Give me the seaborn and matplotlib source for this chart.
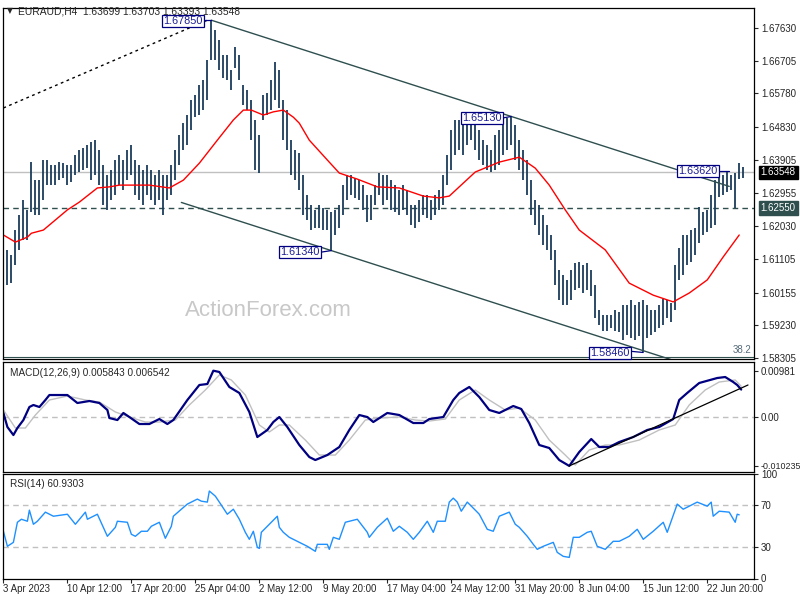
import numpy as np
import matplotlib
matplotlib.use("Agg")
import matplotlib.pyplot as plt
import matplotlib.transforms as mtransforms
import seaborn as sns

# EURAUD H4 (2本ずつ): 高値・安値
bar_high = [
    1.6263, 1.6136, 1.6121, 1.6192, 1.6234, 1.6277, 1.6249, 1.6384, 1.6333, 1.6333,
    1.6390, 1.6390, 1.6376, 1.6376, 1.6384, 1.6381, 1.6376, 1.6376, 1.6404, 1.6418,
    1.6424, 1.6432, 1.6441, 1.6446, 1.6418, 1.6376, 1.6348, 1.6362, 1.6390, 1.6404,
    1.6390, 1.6418, 1.6432, 1.6390, 1.6376, 1.6362, 1.6376, 1.6362, 1.6348, 1.6362,
    1.6348, 1.6348, 1.6376, 1.6418, 1.6461, 1.6494, 1.6517, 1.6559, 1.6574, 1.6602,
    1.6616, 1.6673, 1.6785, 1.6757, 1.6729, 1.6687, 1.6687, 1.6644, 1.6709, 1.6687,
    1.6602, 1.6588, 1.6559, 1.6503, 1.6461, 1.6574, 1.6579, 1.6616, 1.6667, 1.6644,
    1.6559, 1.6531, 1.6446, 1.6418, 1.6410, 1.6348, 1.6291, 1.6263, 1.6249, 1.6263,
    1.6254, 1.6249, 1.6243, 1.6249, 1.6263, 1.6319, 1.6348, 1.6348, 1.6339, 1.6333,
    1.6319, 1.6291, 1.6291, 1.6319, 1.6353, 1.6348, 1.6348, 1.6333, 1.6319, 1.6305,
    1.6319, 1.6305, 1.6263, 1.6263, 1.6277, 1.6291, 1.6291, 1.6277, 1.6291, 1.6305,
    1.6348, 1.6404, 1.6475, 1.6503, 1.6503, 1.6489, 1.6503, 1.6509, 1.6489, 1.6475,
    1.6446, 1.6432, 1.6418, 1.6461, 1.6475, 1.6489, 1.6509, 1.6513, 1.6489, 1.6446,
    1.6418, 1.6390, 1.6333, 1.6277, 1.6263, 1.6234, 1.6206, 1.6178, 1.6136, 1.6079,
    1.6065, 1.6051, 1.6079, 1.6099, 1.6102, 1.6093, 1.6099, 1.6079, 1.6037, 1.5966,
    1.5952, 1.5952, 1.5952, 1.5966, 1.5960, 1.5980, 1.5980, 1.5994, 1.5980, 1.5989,
    1.5994, 1.5980, 1.5966, 1.5966, 1.5980, 1.5998, 1.5994, 1.5986, 1.6093, 1.6141,
    1.6178, 1.6178, 1.6192, 1.6198, 1.6257, 1.6243, 1.6249, 1.6291, 1.6333, 1.6348,
    1.6348, 1.6356, 1.6348, 1.6353, 1.6381, 1.63703,
]
bar_low = [
    1.6164, 1.6037, 1.6042, 1.6093, 1.6136, 1.6164, 1.6164, 1.6243, 1.6234, 1.6234,
    1.6277, 1.6319, 1.6319, 1.6319, 1.6333, 1.6339, 1.6319, 1.6328, 1.6348, 1.6356,
    1.6362, 1.6367, 1.6333, 1.6348, 1.6319, 1.6263, 1.6249, 1.6277, 1.6291, 1.6319,
    1.6305, 1.6333, 1.6348, 1.6291, 1.6277, 1.6263, 1.6291, 1.6277, 1.6263, 1.6277,
    1.6234, 1.6277, 1.6291, 1.6333, 1.6376, 1.6418, 1.6432, 1.6475, 1.6511, 1.6517,
    1.6531, 1.6559, 1.6673, 1.6673, 1.6644, 1.6622, 1.6616, 1.6588, 1.6650, 1.6616,
    1.6545, 1.6531, 1.6446, 1.6362, 1.6353, 1.6503, 1.6517, 1.6531, 1.6559, 1.6537,
    1.6446, 1.6418, 1.6348, 1.6333, 1.6305, 1.6234, 1.6220, 1.6192, 1.6198, 1.6198,
    1.6192, 1.6192, 1.6134, 1.6178, 1.6198, 1.6234, 1.6277, 1.6291, 1.6283, 1.6277,
    1.6249, 1.6215, 1.6220, 1.6263, 1.6291, 1.6263, 1.6277, 1.6249, 1.6243, 1.6234,
    1.6249, 1.6234, 1.6206, 1.6198, 1.6215, 1.6234, 1.6226, 1.6220, 1.6234, 1.6249,
    1.6263, 1.6319, 1.6362, 1.6404, 1.6418, 1.6404, 1.6432, 1.6446, 1.6418, 1.6390,
    1.6376, 1.6362, 1.6356, 1.6362, 1.6376, 1.6404, 1.6418, 1.6432, 1.6390, 1.6362,
    1.6333, 1.6291, 1.6234, 1.6206, 1.6178, 1.6150, 1.6136, 1.6107, 1.6037, 1.5994,
    1.5980, 1.5980, 1.5994, 1.6023, 1.6028, 1.6014, 1.6023, 1.6006, 1.5943, 1.5923,
    1.5908, 1.5908, 1.5915, 1.5908, 1.5904, 1.5881, 1.5895, 1.5887, 1.5881, 1.5893,
    1.5846, 1.5887, 1.5895, 1.5904, 1.5915, 1.5923, 1.5943, 1.5932, 1.5966, 1.6051,
    1.6065, 1.6093, 1.6102, 1.6121, 1.6155, 1.6178, 1.6186, 1.6198, 1.6206, 1.6285,
    1.6291, 1.6300, 1.6305, 1.6255, 1.6335, 1.63393,
]
bar_step = 2  # H4 足の本数単位

# 移動平均 (赤)
ma_idx = [0, 6, 12, 14, 20, 32, 38, 47, 53, 58, 73, 83, 90, 98, 107, 115, 120, 124, 130, 135,
          140, 145, 148, 153, 162, 168, 177, 187, 198, 210, 218, 223, 236, 248, 258, 266, 273, 281,
          288, 301, 313, 325, 335, 343, 352, 360, 368]
ma_val = [1.6178, 1.6158, 1.6172, 1.6183, 1.6192, 1.6249, 1.6271, 1.6311, 1.6314, 1.6319,
          1.6319, 1.6311, 1.6333, 1.6381, 1.6446, 1.6503, 1.6531, 1.6531, 1.6517, 1.6526,
          1.6531, 1.6511, 1.6494, 1.6446, 1.6390, 1.6353, 1.6336, 1.6314, 1.6311, 1.6288,
          1.6283, 1.6288, 1.6356, 1.6384, 1.6398, 1.6367, 1.6319, 1.6249, 1.6192, 1.6136,
          1.6042, 1.6008, 1.5989, 1.6014, 1.6051, 1.6116, 1.6178]

# MACD(12,26,9)
macd_idx = [0, 2, 5, 7, 10, 13, 15, 18, 21, 23, 32, 37, 43, 48, 52, 53, 57, 60, 63, 68,
            73, 78, 82, 85, 92, 98, 102, 105, 108, 113, 118, 123, 127, 132, 135, 138, 142, 148, 153, 156,
            162, 168, 173, 178, 182, 185, 192, 198, 205, 210, 213, 220, 225, 228, 233, 238, 243, 248, 255, 259,
            263, 268, 273, 278, 283, 288, 294, 298, 303, 308, 315, 322, 328, 335, 338, 342, 348, 357, 361, 365,
            367, 369]
macd_val = [0.00091, -0.00204, -0.00373, -0.00225, -0.00057, 0.00217, 0.00259, 0.00217, 0.00364, 0.00469,
            0.00469, 0.00301, 0.00343, 0.00301, 0.00154, -0.00015, -0.00057, 0.00091, 0.00006, -0.00141,
            -0.00141, -0.00036, -0.00141, -0.00057, 0.00364, 0.00680, 0.00701, 0.00981, 0.00954, 0.00638,
            0.00512, 0.00112, -0.00415, -0.00267, -0.00099, 0.00006, -0.00204, -0.00583, -0.00836, -0.00899,
            -0.00794, -0.00625, -0.00267, 0.00048, 0.00006, -0.00099, 0.00091, 0.00048, -0.00120, -0.00120,
            -0.00036, 0.00006, 0.00364, 0.00512, 0.00638, 0.00427, 0.00154, 0.00091, 0.00238, 0.00175,
            -0.00120, -0.00583, -0.00646, -0.00899, -0.01023, -0.00730, -0.00457, -0.00625, -0.00625, -0.00520,
            -0.00415, -0.00267, -0.00204, -0.00036, 0.00364, 0.00512, 0.00722, 0.00827, 0.00848, 0.00743,
            0.00680, 0.00584]
sig_idx = [0, 6, 11, 16, 23, 32, 41, 48, 56, 63, 71, 78, 86, 93, 101, 108, 114, 121, 128, 133,
           138, 143, 151, 158, 166, 173, 181, 188, 198, 206, 213, 221, 228, 236, 243, 251, 258, 266, 273, 281,
           286, 293, 301, 308, 318, 328, 336, 343, 351, 358, 366, 369]
sig_val = [0.00154, -0.00225, -0.00225, 0.00048, 0.00364, 0.00448, 0.00364, 0.00322, 0.00112, 0.00006,
           -0.00099, -0.00099, -0.00057, 0.00259, 0.00575, 0.00891, 0.00785, 0.00469, -0.00162, -0.00309,
           -0.00162, -0.00162, -0.00478, -0.00794, -0.00794, -0.00478, -0.00057, -0.00015, 0.00006, -0.00057,
           -0.00078, -0.00036, 0.00364, 0.00575, 0.00364, 0.00154, 0.00196, -0.00057, -0.00478, -0.00794,
           -0.01004, -0.00688, -0.00583, -0.00583, -0.00478, -0.00267, -0.00162, 0.00259, 0.00575, 0.00743,
           0.00785, 0.00654]

# RSI(14)
rsi_idx = [0, 2, 5, 7, 9, 12, 13, 15, 17, 21, 25, 32, 36, 41, 42, 47, 52, 56, 57, 62,
           64, 66, 69, 72, 74, 78, 81, 84, 85, 89, 92, 97, 99, 102, 103, 106, 108, 112, 115, 118,
           121, 123, 125, 127, 128, 129, 133, 137, 138, 140, 143, 148, 152, 156, 157, 162, 163, 165, 168, 171,
           177, 182, 183, 187, 192, 195, 198, 202, 205, 208, 212, 215, 217, 221, 223, 225, 227, 229, 232, 233,
           237, 238, 242, 245, 247, 248, 253, 256, 258, 262, 265, 267, 270, 275, 277, 280, 283, 285, 288, 292,
           294, 297, 301, 305, 308, 313, 317, 320, 325, 330, 332, 337, 340, 343, 347, 352, 354, 355, 358, 363,
           366, 367, 368]
rsi_val = [45.2, 30.8, 34.6, 53.8, 56.7, 54.8, 65.4, 51.9, 54.8, 63.5, 59.6, 61.5, 51.9, 63.5, 56.7, 61.5,
           40.4, 49.0, 54.8, 53.8, 42.3, 40.4, 45.2, 45.2, 50.0, 53.8, 38.5, 50.0, 59.6, 66.3, 71.2, 76.0,
           74.0, 73.1, 83.7, 78.8, 73.1, 61.5, 66.3, 56.7, 44.2, 37.5, 45.2, 29.8, 28.8, 44.2, 51.9, 59.6,
           49.0, 44.2, 39.4, 34.6, 30.8, 26.0, 32.7, 32.7, 27.9, 39.4, 37.5, 53.8, 56.7, 44.2, 39.4, 49.0,
           57.7, 45.2, 50.0, 44.2, 37.5, 44.2, 54.8, 44.2, 54.8, 54.8, 73.1, 76.9, 73.1, 64.4, 73.1, 71.2,
           63.5, 61.5, 47.1, 45.2, 54.8, 59.6, 63.5, 51.9, 49.0, 40.4, 32.7, 27.9, 30.8, 34.6, 25.0, 21.2,
           20.2, 39.4, 39.4, 44.2, 45.2, 30.8, 27.9, 35.6, 35.6, 40.4, 47.1, 37.5, 45.2, 53.8, 44.2, 71.2,
           66.3, 69.2, 73.1, 69.2, 73.1, 59.6, 64.4, 63.5, 53.8, 61.5, 60.93]

# 目盛りとラベル
time_labels = ["3 Apr 2023", "10 Apr 12:00", "17 Apr 20:00", "25 Apr 04:00", "2 May 12:00",
               "9 May 20:00", "17 May 04:00", "24 May 12:00", "31 May 20:00", "8 Jun 04:00",
               "15 Jun 12:00", "22 Jun 20:00"]
price_ticks = [1.58305, 1.59230, 1.60155, 1.61105, 1.62030, 1.62955, 1.63905,
               1.64830, 1.65780, 1.66705, 1.67630]
macd_ticks = [-0.010235, 0.0, 0.00981]
macd_tick_labels = ["-0.010235", "0.00", "0.00981"]
rsi_levels = [30, 70]

# 重要な価格
header_ohlc = [1.63699, 1.63703, 1.63393, 1.63548]
support_level = 1.62550
swing_points = [(104, 1.67850), (254, 1.65130), (164, 1.61340), (320, 1.58460)]
touch_price = 1.63620
macd_params = "MACD(12,26,9) 0.005843 0.006542"
rsi_text = "RSI(14) 60.9303"

sns.set_style("white")
plt.rcParams['font.family'] = ['Liberation Sans', 'DejaVu Sans']
plt.rcParams['axes.linewidth'] = 0.9

BAR_C = '#1b3d5a'
LINE_C = '#2f4f4f'
LBL_C = '#1c1c96'

fig = plt.figure(figsize=(8, 6), dpi=100)
L, W = 3 / 800, 751 / 800
ax = fig.add_axes([L, 1 - 359 / 600, W, 351 / 600])
ax2 = fig.add_axes([L, 1 - 472 / 600, W, 110 / 600], sharex=ax)
ax3 = fig.add_axes([L, 1 - 578.5 / 600, W, 104.5 / 600], sharex=ax)

xmax = 375.4

# --- メインチャート ---
bar_idx = np.arange(len(bar_high)) * bar_step
ax.vlines(bar_idx, bar_low, bar_high, color=BAR_C, lw=1.3)
sns.lineplot(x=ma_idx, y=ma_val, ax=ax, color='red', lw=1.0, sort=False)

ax.axhline(header_ohlc[3], color='#c0c0c0', lw=1.0, zorder=0)
ax.axhline(support_level, color=LINE_C, lw=1.0, ls=(0, (4, 3)), zorder=0)

# 下降チャネル
(p1x, p1y), (p2x, p2y), (p3x, p3y), (p4x, p4y) = swing_points
slope = (p2y - p1y) / (p2x - p1x)
ux = np.array([p1x, 363])
ax.plot(ux, p1y + slope * (ux - p1x), color=LINE_C, lw=1.0)
lx = np.array([89, 345])
ax.plot(lx, p3y + slope * (lx - p3x), color=LINE_C, lw=1.0)
# 点線
ax.plot([0, 102], [1.6537, p1y], color='black', lw=1.0, ls=(0, (2, 2.5)))

# フィボナッチ 38.2
ax.axhline(1.5832, color=LINE_C, lw=0.8)
ax.text(0.997, 1.5838, "38.2", transform=mtransforms.blended_transform_factory(ax.transAxes, ax.transData),
        ha='right', va='bottom', fontsize=7, color='#556b7a')


def price_box(x, y, txt, cx, cy):
    ax.text(x, y, txt, ha='center', va='center', fontsize=7.8, color=LBL_C,
            bbox=dict(boxstyle='square,pad=0.12', fc='white', ec='#000080', lw=0.9), zorder=6)
    ax.plot(cx, cy, color='#000080', lw=0.9, zorder=5)


price_box(89.6, 1.6783, "1.67850", [100.5, p1x], [p1y, p1y])
price_box(239.4, 1.6509, "1.65130", [250, p2x], [1.6509, p2y])
price_box(148.4, 1.6130, "1.61340", [159.4, p3x], [1.6130, p3y])
price_box(303.4, 1.5845, "1.58460", [314.5, p4x], [1.5849, p4y])
price_box(347.4, 1.6359, "1.63620", [358.5, 363], [1.6359, 1.6359])

ax.set_ylim(1.58276, 1.68195)
ax.set_xlim(-0.2, xmax)
ax.set_yticks(price_ticks)
ax.set_yticklabels([f"{t:.5f}" for t in price_ticks])

trans = mtransforms.blended_transform_factory(ax.transAxes, ax.transData)
ax.text(1.009, header_ohlc[3], f"{header_ohlc[3]:.5f}", transform=trans, ha='left', va='center',
        fontsize=7, color='white', bbox=dict(boxstyle='square,pad=0.18', fc='black', ec='black'))
ax.text(1.009, support_level, f"{support_level:.5f}", transform=trans, ha='left', va='center',
        fontsize=7, color='white', bbox=dict(boxstyle='square,pad=0.18', fc=LINE_C, ec=LINE_C))

fig.text(7 / 800, 1 - 11 / 600, "\u25bc", fontsize=5.5, va='center', ha='left',
         family=['DejaVu Sans'])
fig.text(18 / 800, 1 - 11 / 600, "EURAUD,H4  " + " ".join(f"{v:.5f}" for v in header_ohlc),
         fontsize=7.4, va='center', ha='left')
fig.text(268 / 800, 1 - 310 / 600, "ActionForex.com", fontsize=16, color='#c8c8c8',
         ha='center', va='center')

# --- MACD ---
ax2.axhline(0, color='#c0c0c0', lw=1.0, ls=(0, (4, 3)))
sns.lineplot(x=sig_idx, y=sig_val, ax=ax2, color='#c0c0c0', lw=1.0, sort=False)
sns.lineplot(x=macd_idx, y=macd_val, ax=ax2, color='#000080', lw=1.6, sort=False)
ax2.plot([283, 372.4], [-0.01023, 0.0068], color='black', lw=0.9)
ax2.set_ylim(-0.01151, 0.01164)
ax2.set_yticks(macd_ticks)
ax2.set_yticklabels(macd_tick_labels)
ax2.text(7 / 751, 0.9, macd_params, transform=ax2.transAxes, fontsize=7.2, va='center', ha='left')

# --- RSI ---
for lv in rsi_levels:
    ax3.axhline(lv, color='#c0c0c0', lw=1.0, ls=(0, (4, 3)))
sns.lineplot(x=rsi_idx, y=rsi_val, ax=ax3, color='#1e90ff', lw=1.0, sort=False)
ax3.set_ylim(0, 100)
ax3.set_yticks([0, 30, 70, 100])
ax3.set_yticklabels(["0", "30", "70", "100"])
down = mtransforms.ScaledTranslation(0, -2 / 72, fig.dpi_scale_trans)
for lab in ax3.get_yticklabels():
    if lab.get_text() == "100":
        lab.set_va('top')
        lab.set_transform(lab.get_transform() + down)
    elif lab.get_text() == "0":
        lab.set_va('bottom')
ax3.text(7 / 751, 0.9, rsi_text, transform=ax3.transAxes, fontsize=7.2, va='center', ha='left')

ax3.set_xticks(np.arange(len(time_labels)) * 32)
ax3.set_xticklabels(time_labels, ha='left')

for a in (ax, ax2, ax3):
    a.set_xlabel("")
    a.set_ylabel("")
    a.yaxis.tick_right()
    a.tick_params(axis='y', direction='out', length=3, width=0.8, labelsize=7, pad=2, right=True, left=False)
    for s in a.spines.values():
        s.set_color('black')
        s.set_linewidth(0.9)
for a in (ax, ax2):
    a.tick_params(axis='x', bottom=False, labelbottom=False)
ax3.tick_params(axis='x', direction='out', length=3, width=0.8, labelsize=7, pad=1, bottom=True)
for lab in ax2.get_yticklabels():
    if lab.get_text().startswith("-"):
        lab.set_fontsize(6.4)

fig.savefig("out.png", dpi=100, facecolor='white')
